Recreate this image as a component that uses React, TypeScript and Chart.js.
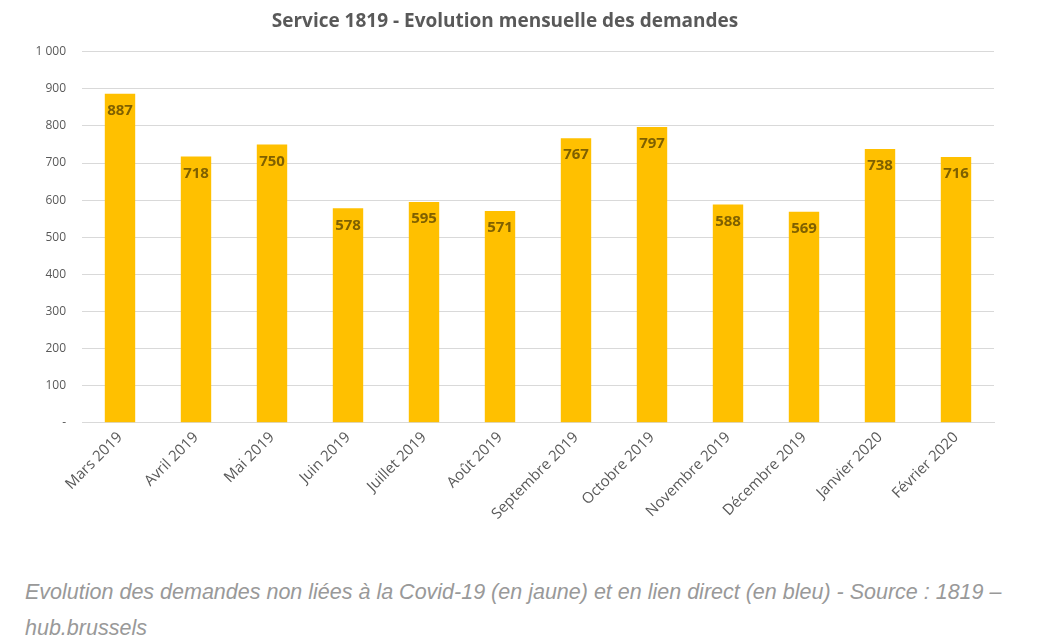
import React, { useEffect, useRef } from "react";
import { Chart, registerables } from "chart.js";

Chart.register(...registerables);

const categories = [
  "Mars 2019", "Avril 2019", "Mai 2019", "Juin 2019", "Juillet 2019", "Août 2019",
  "Septembre 2019", "Octobre 2019", "Novembre 2019", "Décembre 2019", "Janvier 2020", "Février 2020",
];
const demandes = [887, 718, 750, 578, 595, 571, 767, 797, 588, 569, 738, 716];
const yTicks = [0, 100, 200, 300, 400, 500, 600, 700, 800, 900, 1000];
const title = "Service 1819 - Evolution mensuelle des demandes";
const caption = "Evolution des demandes non liées à la Covid-19 (en jaune) et en lien direct (en bleu) - Source : 1819 – hub.brussels";

const fmt = (v: number) => (v === 0 ? "-" : v.toString().replace(/\B(?=(\d{3})+(?!\d))/g, " "));

const labelPlugin = {
  id: "barLabels",
  afterDatasetsDraw(chart: any) {
    const ctx = chart.ctx;
    const meta = chart.getDatasetMeta(0);
    ctx.save();
    ctx.font = "bold 15px 'Open Sans', sans-serif";
    ctx.fillStyle = "#7F6000";
    ctx.textAlign = "center";
    ctx.textBaseline = "middle";
    meta.data.forEach((el: any, i: number) => {
      ctx.fillText(String(demandes[i]), el.x, el.y + 17);
    });
    ctx.restore();
  },
};

export default function App() {
  const ref = useRef<HTMLCanvasElement>(null);
  useEffect(() => {
    const chart = new Chart(ref.current!, {
      type: "bar",
      data: {
        labels: categories,
        datasets: [
          {
            data: demandes,
            backgroundColor: "#FFC000",
            barPercentage: 0.8,
            categoryPercentage: 0.5,
          },
        ],
      },
      options: {
        animation: false,
        responsive: false,
        layout: { padding: { left: 8, right: 43, top: 2, bottom: 0 } },
        plugins: {
          legend: { display: false },
          tooltip: { enabled: false },
          title: {
            display: true,
            text: title,
            color: "#595959",
            font: { family: "'Open Sans', sans-serif", size: 19, weight: "bold" },
            padding: { top: 0, bottom: 19 },
          },
        },
        scales: {
          y: {
            min: 0,
            max: 1000,
            afterBuildTicks: (s: any) => {
              s.ticks = yTicks.map((v) => ({ value: v }));
            },
            afterFit: (s: any) => {
              s.width = 66;
            },
            ticks: {
              callback: (v: any) => fmt(Number(v)),
              color: "#595959",
              font: { family: "'Open Sans', sans-serif", size: 12 },
              padding: 16,
            },
            grid: { color: "#D9D9D9", drawTicks: false, lineWidth: 1 },
            border: { display: false },
          },
          x: {
            ticks: {
              color: "#595959",
              font: { family: "'Open Sans', sans-serif", size: 15 },
              minRotation: 45,
              maxRotation: 45,
              padding: 6,
            },
            grid: { display: false, drawTicks: false },
            border: { display: true, color: "#D9D9D9" },
          },
        },
      },
      plugins: [labelPlugin],
    });
    return () => chart.destroy();
  }, []);
  return (
    <div>
      <canvas ref={ref} width={1029} height={521} style={{ display: "block" }} />
      <p
        style={{
          margin: "45px 0 0 17px",
          fontFamily: "'Liberation Sans', Arial, sans-serif",
          fontStyle: "italic",
          fontSize: "21.5px",
          lineHeight: "36px",
          color: "#999999",
          width: 1000,
        }}
      >
        {caption}
      </p>
    </div>
  );
}
